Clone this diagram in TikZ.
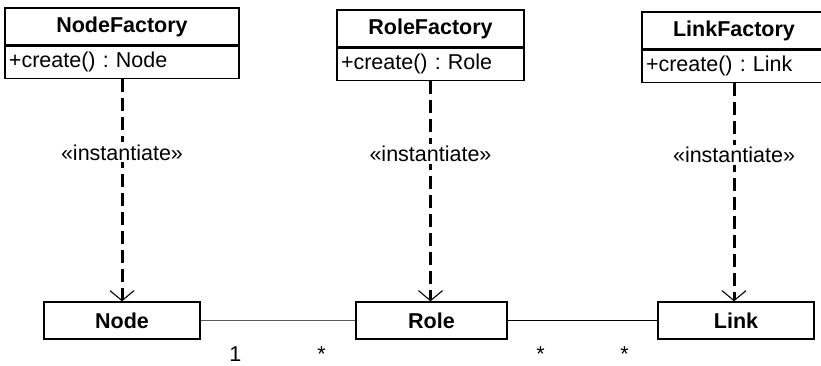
\documentclass[tikz,border=0pt]{standalone}
\usepackage{fontspec}
\setmainfont{Liberation Sans}
\usetikzlibrary{arrows.meta}

\begin{document}
\frenchspacing
\begin{tikzpicture}[x=1pt,y=-1pt,
  every node/.style={font=\fontsize{21.5}{24}\selectfont},
  classtitle/.style={draw=black, line width=1.3pt, inner sep=0pt,
    minimum height=37pt, font=\fontsize{21.5}{24}\selectfont\bfseries},
  classops/.style={draw=black, line width=1.3pt, inner ysep=0pt, inner xsep=4pt,
    minimum height=32pt, align=left, anchor=north},
  depend/.style={line width=3pt, dash pattern=on 13pt off 6pt,
    -{Straight Barb[length=10pt, width=24pt, line width=1.1pt]}},
  stereo/.style={fill=white, inner sep=2pt, pos=0.33},
  mult/.style={anchor=base, yshift=-41pt, inner sep=0pt}
]
\useasboundingbox (0,0) rectangle (821,365);

% factory classes: name compartment and operation compartment
\node[classtitle, minimum width=234pt] (nft) at (122,26.5) {NodeFactory};
\node[classops, text width=226pt] (nfo) at (nft.south) {+create() : Node};

\node[classtitle, minimum width=187pt] (rft) at (430.5,28.5) {RoleFactory};
\node[classops, text width=179pt] (rfo) at (rft.south) {+create() : Role};

\node[classtitle, minimum width=184pt] (lft) at (734,30.5) {LinkFactory};
\node[classops, text width=176pt] (lfo) at (lft.south) {+create() : Link};

% product classes
\node[classtitle, minimum width=156pt] (node) at (122,320.5) {Node};
\node[classtitle, minimum width=151pt] (role) at (431.5,320.5) {Role};
\node[classtitle, minimum width=156pt] (link) at (736,320.5) {Link};

% instantiate dependencies
\draw[depend] (nfo.south) -- (nfo.south |- node.north)
  node[stereo] {«instantiate»};
\draw[depend] (rfo.south) -- (rfo.south |- role.north)
  node[stereo] {«instantiate»};
\draw[depend] (lfo.south) -- (lfo.south |- link.north)
  node[stereo] {«instantiate»};

% associations with multiplicities
\draw[line width=1.2pt, draw=black!65] (node.east) -- (role.west)
  node[mult, pos=0.224] {1}
  node[mult, pos=0.782] {*};
\draw[line width=1.5pt] (role.east) -- (link.west)
  node[mult, pos=0.219] {*}
  node[mult, pos=0.781] {*};
\end{tikzpicture}
\end{document}
